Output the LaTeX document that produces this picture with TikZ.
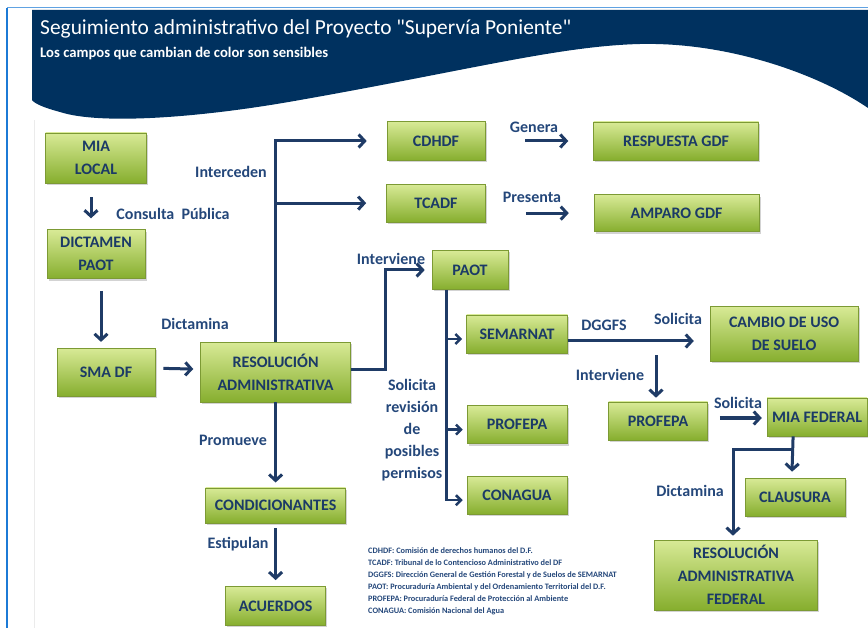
\documentclass[tikz,border=0pt]{standalone}
\usepackage{fontspec}
\setmainfont{Carlito}
\newfontfamily\titlefont{Carlito}
\usetikzlibrary{positioning,arrows.meta,shadows,calc}

\definecolor{navy}{HTML}{00315F}
\definecolor{txtblue}{HTML}{1B3A66}
\definecolor{lblblue}{HTML}{24477A}
\definecolor{arrblue}{HTML}{1F3B66}
\definecolor{gtop}{HTML}{D8EA96}
\definecolor{gmid}{HTML}{A8CC48}
\definecolor{gbot}{HTML}{86AE2E}
\definecolor{gedge}{HTML}{7C9A34}
\definecolor{frameblue}{HTML}{1C7AD6}

\begin{document}
\begin{tikzpicture}[x=1pt, y=-1pt,
  font=\bfseries\fontsize{16}{23}\selectfont,
  box/.style={draw=gedge, line width=0.6pt, top color=gtop, middle color=gmid, bottom color=gbot,
              text=txtblue, align=center, minimum width=100pt, minimum height=38pt, inner sep=1pt,
              drop shadow={shadow xshift=1.5pt, shadow yshift=-2pt, opacity=0.35}},
  arr/.style={-{Straight Barb[length=6pt,width=13pt]}, line width=3pt, draw=arrblue},
  arrs/.style={-{Straight Barb[length=5pt,width=10pt]}, line width=2.5pt, draw=arrblue},
  line/.style={line width=3pt, draw=arrblue},
  lab/.style={text=lblblue, align=center, inner sep=1pt, font=\bfseries\fontsize{16}{22}\selectfont},
  legend/.style={text=lblblue, align=left, inner sep=0pt, font=\bfseries\fontsize{8.3}{12}\selectfont}
]
\useasboundingbox (0,0) rectangle (868,628);
% Header band and frame
\fill[navy] (32,10) -- (868,10) -- (868,108) .. controls (820,75) and (730,42) .. (640,44)
  .. controls (560,46) and (470,70) .. (300,100) .. controls (200,118) and (100,125) .. (60,112)
  .. controls (45,108) and (35,104) .. (32,100) -- cycle;
\draw[frameblue, line width=2pt] (7,628) -- (7,8);
\draw[frameblue!70, line width=1pt] (7,8) -- (868,8);
\draw[black!8, line width=0.8pt] (34,120) -- (34,628);
\node[anchor=base west, inner sep=0pt, text=white, font=\titlefont\fontsize{21.4}{25}\selectfont] (titulo) at (40,35)
  {Seguimiento administrativo del Proyecto "Supervía Poniente"};
\node[anchor=base west, inner sep=0pt, text=white, font=\bfseries\fontsize{14.7}{17}\selectfont] (subtitulo) at (40,58)
  {Los campos que cambian de color son sensibles};

% Left column: local procedure
\node[box, minimum width=101pt, minimum height=50pt] (mia) at (96,158) {MIA\\ LOCAL};
\node[box, below=46pt of mia, minimum width=98pt, minimum height=49pt] (dict) {DICTAMEN\\ PAOT};
\node[box, below=69pt of dict, xshift=10pt, minimum width=98pt, minimum height=48pt] (sma) {SMA DF};
\node[box, right=45pt of sma, minimum width=150pt, minimum height=60pt] (res) {RESOLUCIÓN\\ ADMINISTRATIVA};
\node[box, below=85pt of res, minimum width=140pt, minimum height=35pt] (cond) {CONDICIONANTES};
\node[box, below=63pt of cond, minimum height=39pt] (acu) {ACUERDOS};

% Top: CDHDF / TCADF
\node[box, minimum width=98pt, minimum height=39pt] (cdhdf) at (436,141) {CDHDF};
\node[box, below=23pt of cdhdf, minimum width=99pt] (tcadf) {TCADF};
\node[box, right=108pt of cdhdf, minimum width=165pt] (resp) {RESPUESTA GDF};
\node[box, right=108pt of tcadf, yshift=-10pt, minimum width=165pt, minimum height=37pt] (amp) {AMPARO GDF};

% Centre: PAOT and permits
\node[box, minimum width=76pt, minimum height=39pt] (paot) at (470,270) {PAOT};
\node[box, minimum width=101pt] (sem) at (517,334) {SEMARNAT};
\node[box, below=52pt of sem] (profl) {PROFEPA};
\node[box, below=32pt of profl] (cona) {CONAGUA};

% Right: federal procedure
\node[box, right=142pt of sem, minimum width=148pt, minimum height=55pt] (cambio) {CAMBIO DE USO\\ DE SUELO};
\node[box, minimum width=99pt] (profr) at (658,421) {PROFEPA};
\node[box, right=59pt of profr, yshift=4pt] (miaf) {MIA FEDERAL};
\node[box] (claus) at (795,497) {CLAUSURA};
\node[box, minimum width=163pt, minimum height=70pt] (resfed) at (736,575) {RESOLUCIÓN\\ ADMINISTRATIVA\\ FEDERAL};

% Labels
\node[lab] (lconsulta) at (173,214) {Consulta\ \ Pública};
\node[lab] (ldictamina) at (195,324) {Dictamina};
\node[lab] (linterceden) at (231,172) {Interceden};
\node[lab] (linterviene) at (391,259) {Interviene};
\node[lab] (lgenera) at (534,127) {Genera};
\node[lab] (lpresenta) at (532,197) {Presenta};
\node[lab] (lsolicita) at (412,430) {Solicita\\ revisión\\ de\\ posibles\\ permisos};
\node[lab] (ldggfs) at (604,325) {DGGFS};
\node[lab] (lsolcambio) at (678,319) {Solicita};
\node[lab] (lintprof) at (610,375) {Interviene};
\node[lab] (lsolmia) at (738,403) {Solicita};
\node[lab] (ldicfed) at (690,491) {Dictamina};
\node[lab] (lpromueve) at (233,440) {Promueve};
\node[lab] (lestipulan) at (238,544) {Estipulan};

% Glossary
\node[legend, anchor=north west] (glosario) at (368,547)
  {CDHDF: Comisión de derechos humanos del D.F.\\
   TCADF: Tribunal de lo Contencioso Administrativo del DF\\
   DGGFS: Dirección General de Gestión Forestal y de Suelos de SEMARNAT\\
   PAOT: Procuraduría Ambiental y del Ordenamiento Territorial del D.F.\\
   PROFEPA: Procuraduría Federal de Protección al Ambiente\\
   CONAGUA: Comisión Nacional del Agua};

% Connectors
\draw[arr] ([xshift=-5pt,yshift=-14pt]mia.south) -- ([xshift=-5pt,yshift=11pt]dict.north);
\draw[arr] ([xshift=5pt,yshift=-12pt]dict.south) -- ([xshift=-5pt,yshift=6pt]sma.north);
\draw[arr, shorten <=8pt, shorten >=7pt] ([yshift=4pt]sma.east) -- ([yshift=3pt]res.west);
\draw[arr] (res.north) |- ([xshift=-20pt]cdhdf.west);
\draw[arr] (res.north |- tcadf.west) -- ([xshift=-20pt]tcadf.west);
\draw[arr] ([yshift=3pt]res.east) -- ++(35,0) |- ([xshift=-7pt]paot.west);
\draw[arr, shorten <=40pt, shorten >=25pt] (cdhdf.east) -- (resp.west);
\draw[arr, shorten <=40pt, shorten >=25pt] (tcadf.east |- amp.west) -- (amp.west);
\coordinate (pv) at ([xshift=15pt]paot.south west);
\draw[line] (pv) -- ([yshift=-6pt]cona.west -| pv);
\foreach \n in {sem, profl, cona}
  \draw[arrs, shorten >=4pt] ([yshift=-5pt]\n.west -| pv) -- ([yshift=-5pt]\n.west);
\draw[arr, shorten >=16pt] ([yshift=-7pt]sem.east) -- ([yshift=-7pt]sem.east -| cambio.west);
\coordinate (dg) at ([xshift=-2pt,yshift=-2pt]profr.north |- sem.south);
\draw[arr] (dg) -- ([xshift=-2pt,yshift=4pt]profr.north);
\draw[arr, shorten <=12pt, shorten >=5pt] ([yshift=3pt]profr.east) -- ([yshift=-1pt]miaf.west);
\coordinate (mf) at ([xshift=-24pt]miaf.south);
\draw[arr] (mf) -- ([xshift=-3pt,yshift=6pt]claus.north);
\draw[arr] ([yshift=-13pt]mf) -| ([xshift=-3pt,yshift=4pt]resfed.north);
\draw[arr, shorten >=5pt] (res) -- (cond);
\draw[arr, shorten <=5pt, shorten >=6pt] (cond) -- (acu);
\end{tikzpicture}
\end{document}
